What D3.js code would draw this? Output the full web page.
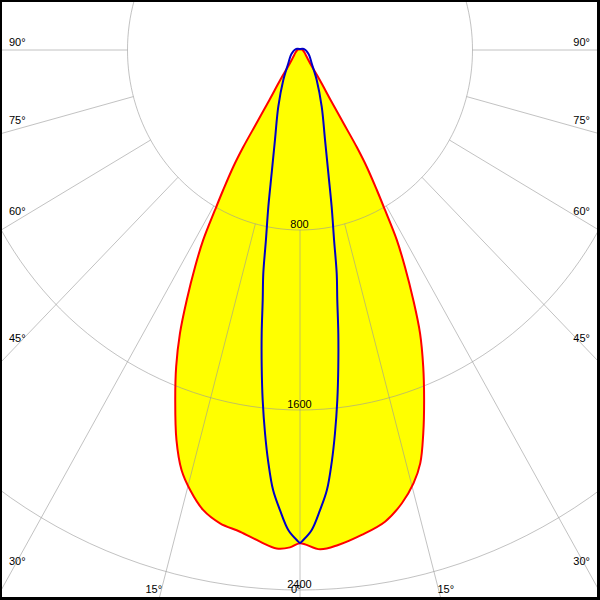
<!DOCTYPE html>
<html><head><meta charset="utf-8">
<script src="https://cdn.jsdelivr.net/npm/d3@7"></script>
<style>html,body{margin:0;padding:0;background:#fff}svg{display:block}</style>
</head><body>
<script>
// ---- data (angle in degrees from nadir, intensity in cd) ----
const ringValues = [800, 1600, 2400];
const ringLabels = ["800", "1600", "2400"];
const gridAngles = [0, 15, 30, 45, 60, 75, 90];
const angleLabels = ["0°", "15°", "30°", "45°", "60°", "75°", "90°"];

// C0-C180 plane (yellow / red), left half
const redLeftAngles = [0, 1.2, 2.8, 4.85, 7.4, 10.0, 12.4, 14.6, 16.4, 18.3, 20.4, 22.2, 23.85, 25.3, 26.8, 28.0, 29.0, 29.8, 30.8, 31.4, 31.8, 32.6, 34.5, 37, 42, 50, 60, 90, 120, 150, 180];
const redLeftValues = [2192, 2211, 2218, 2193, 2159, 2136, 2093, 2021, 1946, 1825, 1660, 1520, 1377, 1229, 1079, 956, 813, 717, 604, 504, 383, 262, 162, 92, 55, 35, 25, 12, 6, 3, 2];
// right half
const redRightAngles = [0, 2.4, 4.6, 7.56, 10.65, 13.2, 15.3, 16.9, 18.55, 20.3, 22.1, 23.85, 25.3, 26.8, 28.0, 29.0, 29.8, 30.8, 31.4, 31.8, 32.6, 34.5, 37, 42, 50, 60, 90, 120, 150, 180];
const redRightValues = [2192, 2221, 2207, 2174, 2133, 2069, 1996, 1919, 1797, 1659, 1519, 1377, 1230, 1079, 956, 813, 717, 604, 504, 383, 262, 162, 92, 55, 35, 25, 12, 6, 3, 2];

// C90-C270 plane (blue), symmetric
const blueAngles = [0, 0.4, 1.46, 2.6, 3.65, 4.61, 5.44, 6.35, 7.19, 8.03, 8.85, 9.73, 10.6, 11.9, 13.5, 16.2, 21.8, 30.2, 42.6, 60, 75, 90, 105, 120, 135, 150, 165, 180];
const blueValues = [2191, 2178, 2134, 2047, 1960, 1835, 1711, 1565, 1419, 1272, 1124, 1007, 859, 712, 563, 416, 271, 154, 80, 50, 35, 25, 18, 10, 7, 5, 4.5, 4.5];

// ---- layout ----
const W = 600, H = 600;
const cx = 300, cy = 50;
const xScale = d3.scaleLinear().domain([0, 800]).range([cx, cx + 172.5]);
const yScale = d3.scaleLinear().domain([0, 800]).range([cy, cy + 180]);
const rad = d => d * Math.PI / 180;
const pt = (a, v, side) => [xScale(side * v * Math.sin(rad(a))), yScale(v * Math.cos(rad(a)))];

const svg = d3.select("body").append("svg").attr("width", W).attr("height", H);
svg.append("rect").attr("width", W).attr("height", H).attr("fill", "#000");
svg.append("rect").attr("x", 2).attr("y", 2).attr("width", 595).attr("height", 595).attr("fill", "#fff");
svg.append("clipPath").attr("id", "clip").append("rect").attr("x", 2).attr("y", 2).attr("width", 595).attr("height", 595);
const g = svg.append("g").attr("clip-path", "url(#clip)");

const line = d3.line().curve(d3.curveCatmullRom.alpha(0.5));
const lineClosed = d3.line().curve(d3.curveCatmullRomClosed.alpha(0.5));

// red / yellow polygon
const redPts = [];
for (let i = redLeftAngles.length - 1; i >= 0; i--) redPts.push(pt(redLeftAngles[i], redLeftValues[i], -1));
for (let i = 1; i < redRightAngles.length - 1; i++) redPts.push(pt(redRightAngles[i], redRightValues[i], 1));
const bluePts = [];
for (let i = blueAngles.length - 1; i >= 0; i--) bluePts.push(pt(blueAngles[i], blueValues[i], -1));
for (let i = 1; i < blueAngles.length - 1; i++) bluePts.push(pt(blueAngles[i], blueValues[i], 1));

g.append("path").attr("d", lineClosed(redPts)).attr("fill", "#ffff00").attr("stroke", "none");

// grid
const grid = g.append("g").attr("stroke", "#9a9a9a").attr("stroke-opacity", 0.6).attr("fill", "none").attr("stroke-width", 1);
ringValues.forEach(v => {
  const pts = d3.range(0, 361, 2).map(a => pt(a, v, 1));
  grid.append("path").attr("d", line(pts));
});
gridAngles.forEach(a => {
  [-1, 1].forEach(s => {
    if (a === 0 && s === 1) return;
    const p0 = pt(a, 800, s), p1 = pt(a, 4000, s);
    grid.append("line").attr("x1", p0[0]).attr("y1", p0[1]).attr("x2", p1[0]).attr("y2", p1[1]);
  });
});

// curves
g.append("path").attr("d", lineClosed(redPts)).attr("fill", "none").attr("stroke", "#ff0000").attr("stroke-width", 2);
g.append("path").attr("d", lineClosed(bluePts)).attr("fill", "none").attr("stroke", "#0000c8").attr("stroke-width", 2);

// labels
const txt = g.append("g").attr("font-family", "'Liberation Sans', Arial, sans-serif").attr("font-size", 11).attr("fill", "#000");
ringValues.forEach((v, i) => {
  txt.append("text").attr("x", cx - 0.5).attr("y", yScale(v) - 2.5).attr("text-anchor", "middle").text(ringLabels[i]);
});
gridAngles.forEach((a, i) => {
  const kx = xScale(1) - xScale(0), ky = yScale(1) - yScale(0);
  const sx = Math.sin(rad(a)) * kx, sy = Math.cos(rad(a)) * ky;
  const yEdge = sx > 0 ? cy + (cx / sx) * sy : Infinity;
  if (yEdge < 597) {
    const base = yEdge - (4 + 0.38 * (90 - a));
    txt.append("text").attr("x", 9).attr("y", base).text(angleLabels[i]);
    txt.append("text").attr("x", 590).attr("y", base).attr("text-anchor", "end").text(angleLabels[i]);
  } else {
    const yb = 593;
    const dx = (yb - cy) / sy * sx;
    txt.append("text").attr("x", cx - dx + 1.5).attr("y", yb).attr("text-anchor", "end").text(angleLabels[i]);
    if (a !== 0) txt.append("text").attr("x", cx + dx - 2).attr("y", yb).text(angleLabels[i]);
  }
});
</script>
</body></html>
